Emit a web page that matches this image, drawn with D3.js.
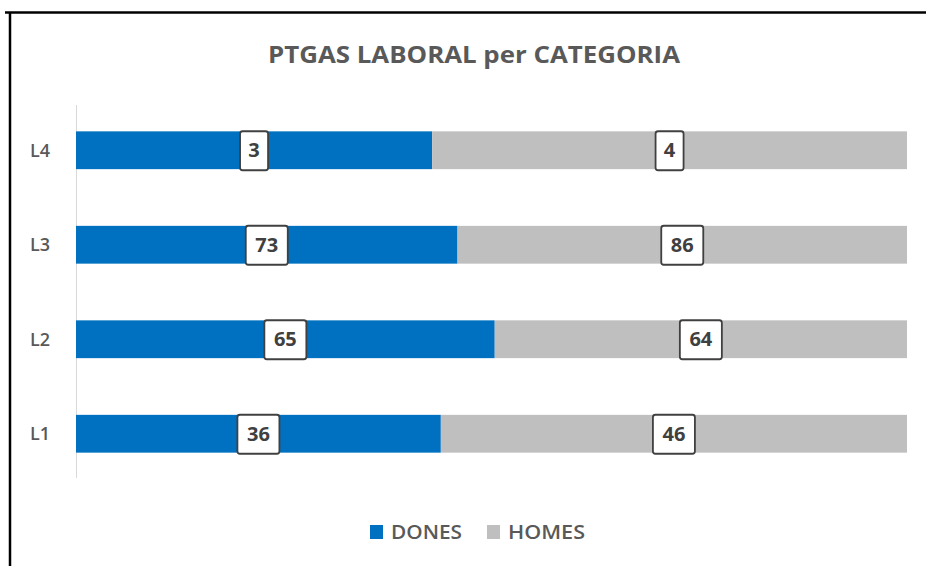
<!DOCTYPE html>
<html>
<head>
<meta charset="utf-8">
<script src="https://cdn.jsdelivr.net/npm/d3@7"></script>
<style>
  body { margin: 0; background: #fff; }
  svg { display: block; font-family: "Open Sans", Lato, sans-serif; }
</style>
</head>
<body>
<svg id="chart"></svg>
<script>
// data
const categories = ["L1", "L2", "L3", "L4"];
const dones = [36, 65, 73, 3];
const homes = [46, 64, 86, 4];
const seriesNames = ["DONES", "HOMES"];
const colors = ["#0070C0", "#BFBFBF"];

const width = 926, height = 566;
const svg = d3.select("#chart").attr("width", width).attr("height", height);

// frame (only top and left edges show in the picture)
svg.append("line").attr("x1", 5).attr("x2", width).attr("y1", 12.5).attr("y2", 12.5)
    .attr("stroke", "#000").attr("stroke-width", 2.5);
svg.append("line").attr("x1", 10).attr("x2", 10).attr("y1", 12).attr("y2", height)
    .attr("stroke", "#000").attr("stroke-width", 2.5);

svg.append("text")
    .attr("x", 474).attr("y", 63)
    .attr("text-anchor", "middle")
    .attr("font-size", 23).attr("font-weight", "bold")
    .attr("fill", "#595959")
    .attr("textLength", 412).attr("lengthAdjust", "spacingAndGlyphs")
    .text("PTGAS LABORAL per CATEGORIA");

const table = categories.map((c, i) => ({cat: c, DONES: dones[i], HOMES: homes[i]}));
const stacked = d3.stack().keys(seriesNames).offset(d3.stackOffsetExpand)(table);

let x = d3.scaleLinear().domain([0, 1]).range([76, 907]);
let y = d3.scaleBand()
    .domain(categories.slice().reverse())
    .range([103, 481])
    .paddingInner(0.6)
    .paddingOuter(0.3);

// category axis
svg.append("line").attr("x1", 76.5).attr("x2", 76.5).attr("y1", 105).attr("y2", 478)
    .attr("stroke", "#D9D9D9");
svg.selectAll(".cat")
    .data(categories)
    .enter()
    .append("text")
    .attr("x", 40)
    .attr("y", d => y(d) + y.bandwidth() / 2)
    .attr("dy", "0.36em")
    .attr("text-anchor", "middle")
    .attr("font-size", 18).attr("font-weight", 600)
    .attr("fill", "#595959")
    .text(d => d);

// bars
const groups = svg.selectAll(".series")
    .data(stacked)
    .enter()
    .append("g")
    .attr("fill", (d, i) => colors[i]);

groups.selectAll("rect")
    .data(d => d)
    .enter()
    .append("rect")
    .attr("x", d => x(d[0]))
    .attr("y", d => y(d.data.cat))
    .attr("width", d => x(d[1]) - x(d[0]))
    .attr("height", y.bandwidth());

// data labels in boxes
stacked.forEach(s => {
    s.forEach(d => {
        const val = d.data[s.key];
        const cx = (x(d[0]) + x(d[1])) / 2;
        const cy = y(d.data.cat) + y.bandwidth() / 2;
        const w = String(val).length > 1 ? 42 : 28;
        const g = svg.append("g");
        g.append("rect")
            .attr("x", cx - w / 2).attr("y", cy - 19)
            .attr("width", w).attr("height", 39)
            .attr("rx", 2.5)
            .attr("fill", "#fff")
            .attr("stroke", "#404040").attr("stroke-width", 1.8);
        g.append("text")
            .attr("x", cx).attr("y", cy)
            .attr("dy", "0.36em")
            .attr("text-anchor", "middle")
            .attr("font-size", 20).attr("font-weight", "bold")
            .attr("fill", "#404040")
            .text(val);
    });
});

// legend
const legendX = [370, 487];
const legendLen = [71, 77];
seriesNames.forEach((n, i) => {
    svg.append("rect")
        .attr("x", legendX[i]).attr("y", 525)
        .attr("width", 13).attr("height", 14)
        .attr("fill", colors[i]);
    svg.append("text")
        .attr("x", legendX[i] + 21).attr("y", 532)
        .attr("dy", "0.36em")
        .attr("font-size", 19).attr("font-weight", 600)
        .attr("fill", "#595959")
        .attr("textLength", legendLen[i]).attr("lengthAdjust", "spacingAndGlyphs")
        .text(n);
});
</script>
</body>
</html>
